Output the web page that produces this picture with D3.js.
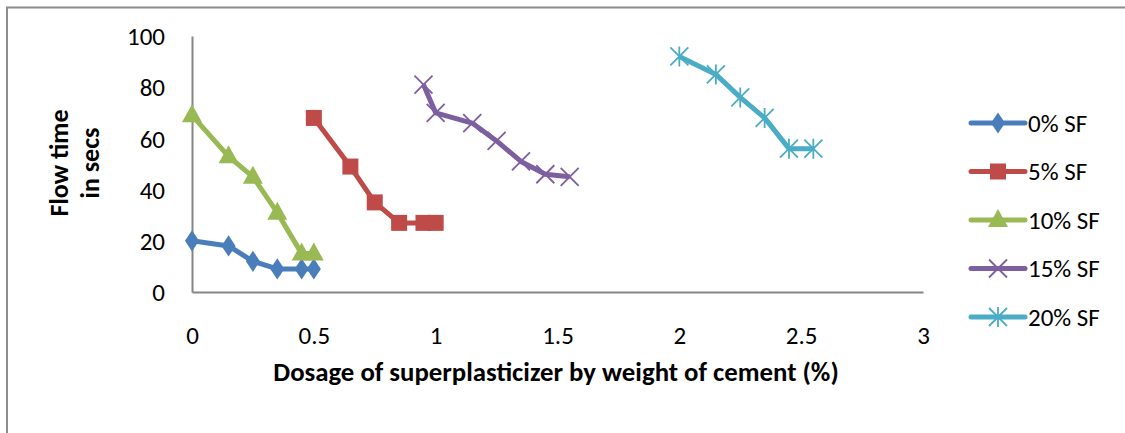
<!DOCTYPE html>
<html>
<head>
<meta charset="utf-8">
<script src="https://cdn.jsdelivr.net/npm/d3@7"></script>
<style>
  body { margin: 0; background: #fff; }
  text { font-family: Carlito, Lato, "Open Sans", sans-serif; fill: #000; }
</style>
</head>
<body>
<svg id="chart" width="1125" height="433"></svg>
<script>
// series data (dosage %, flow time secs)
var names = ["0% SF", "5% SF", "10% SF", "15% SF", "20% SF"];
var colors = ["#4A7EBB", "#BE4B48", "#98B954", "#7D5FA0", "#4BACC6"];
var shapes = ["diamond", "square", "triangle", "cross", "star"];

var x0 = [0, 0.15, 0.25, 0.35, 0.45, 0.5];
var y0 = [20, 18, 12, 9, 9, 9];
var x5 = [0.5, 0.65, 0.75, 0.85, 0.95, 1.0];
var y5 = [68, 49, 35, 27, 27, 27];
var x10 = [0, 0.15, 0.25, 0.35, 0.45, 0.5];
var y10 = [69, 53, 45, 31, 15, 15];
var x15 = [0.95, 1.0, 1.15, 1.25, 1.35, 1.45, 1.55];
var y15 = [81, 70, 66, 59, 51, 46, 45];
var x20 = [2.0, 2.15, 2.25, 2.35, 2.45, 2.55];
var y20 = [92, 85, 76, 68, 56, 56];

var xTicks = [0, 0.5, 1, 1.5, 2, 2.5, 3];
var yTicks = [0, 20, 40, 60, 80, 100];

var xs = [x0, x5, x10, x15, x20];
var ys = [y0, y5, y10, y15, y20];

var svg = d3.select("#chart");

// outer chart border (cut off at right / bottom like the source)
svg.append("path")
    .attr("d", "M7,440 L7,7.5 L1130,7.5")
    .attr("fill", "none")
    .attr("stroke", "#8c8c8c")
    .attr("stroke-width", 2);

var x = d3.scaleLinear().domain([0, 3]).range([192, 923]);
var y = d3.scaleLinear().domain([0, 100]).range([292, 36]);

// axes
var xAxis = svg.append("g").attr("transform", "translate(0," + y(0) + ")")
    .call(d3.axisBottom(x).tickValues(xTicks).tickSize(0)
        .tickFormat(function (d) { return d; }));
var yAxis = svg.append("g").attr("transform", "translate(" + x(0) + ",0)")
    .call(d3.axisLeft(y).tickValues(yTicks).tickSize(0).tickPadding(27));

[xAxis, yAxis].forEach(function (a) {
    a.select(".domain").attr("stroke", "#868686").attr("stroke-width", 2);
    a.selectAll("text").style("font-size", "25px")
        .style("font-family", "Carlito, Lato, 'Open Sans', sans-serif");
});
yAxis.selectAll("text").attr("dy", "0.35em");
xAxis.selectAll("text").attr("dy", "0.35em").attr("y", 43);

// axis titles
svg.append("text")
    .attr("x", 556).attr("y", 381)
    .attr("text-anchor", "middle")
    .style("font-size", "26.8px").style("font-weight", "bold")
    .text("Dosage of superplasticizer by weight of cement (%)");

var yt = svg.append("text")
    .attr("transform", "translate(0,163) rotate(-90)")
    .attr("text-anchor", "middle")
    .style("font-size", "26px").style("font-weight", "bold");
yt.append("tspan").attr("x", 0).attr("y", 68).text("Flow time");
yt.append("tspan").attr("x", 0).attr("y", 99).text("in secs");

// marker drawing
function marker(g, shape, color, cx, cy) {
    if (shape == "diamond") {
        g.append("path").attr("d", d3.symbol(d3.symbolDiamond, 130)())
            .attr("transform", "translate(" + cx + "," + cy + ") scale(1.15,1)")
            .attr("fill", color);
    } else if (shape == "square") {
        g.append("rect").attr("x", cx - 8).attr("y", cy - 8)
            .attr("width", 16).attr("height", 16).attr("fill", color);
    } else if (shape == "triangle") {
        g.append("path")
            .attr("d", "M" + cx + "," + (cy - 11) + " L" + (cx + 10) + "," + (cy + 7) + " L" + (cx - 10) + "," + (cy + 7) + "Z")
            .attr("fill", color);
    } else if (shape == "cross") {
        var r = 9;
        g.append("path")
            .attr("d", "M" + (cx - r) + "," + (cy - r) + "L" + (cx + r) + "," + (cy + r) +
                "M" + (cx - r) + "," + (cy + r) + "L" + (cx + r) + "," + (cy - r))
            .attr("stroke", color).attr("stroke-width", 1.8).attr("fill", "none");
    } else if (shape == "star") {
        var s = 9;
        g.append("path")
            .attr("d", "M" + (cx - s) + "," + (cy - s) + "L" + (cx + s) + "," + (cy + s) +
                "M" + (cx - s) + "," + (cy + s) + "L" + (cx + s) + "," + (cy - s) +
                "M" + cx + "," + (cy - s - 1) + "L" + cx + "," + (cy + s + 1))
            .attr("stroke", color).attr("stroke-width", 1.8).attr("fill", "none");
    }
}

var line = d3.line().x(function (d) { return x(d[0]); }).y(function (d) { return y(d[1]); });

names.forEach(function (n, i) {
    var pts = xs[i].map(function (v, j) { return [v, ys[i][j]]; });
    var g = svg.append("g");
    g.append("path").datum(pts)
        .attr("d", line)
        .attr("fill", "none")
        .attr("stroke", colors[i])
        .attr("stroke-width", 5)
        .attr("stroke-linejoin", "round");
    pts.forEach(function (p) {
        marker(g, shapes[i], colors[i], x(p[0]), y(p[1]));
    });
});

// legend
var legend = svg.append("g");
names.forEach(function (n, i) {
    var ly = 123 + i * 48.5;
    legend.append("line")
        .attr("x1", 971).attr("x2", 1025).attr("y1", ly).attr("y2", ly)
        .attr("stroke", colors[i]).attr("stroke-width", 5).attr("stroke-linecap", "round");
    marker(legend, shapes[i], colors[i], 998, ly);
    legend.append("text")
        .attr("x", 1028).attr("y", ly).attr("dy", "0.35em")
        .style("font-size", "25px")
        .text(n);
});
</script>
</body>
</html>
